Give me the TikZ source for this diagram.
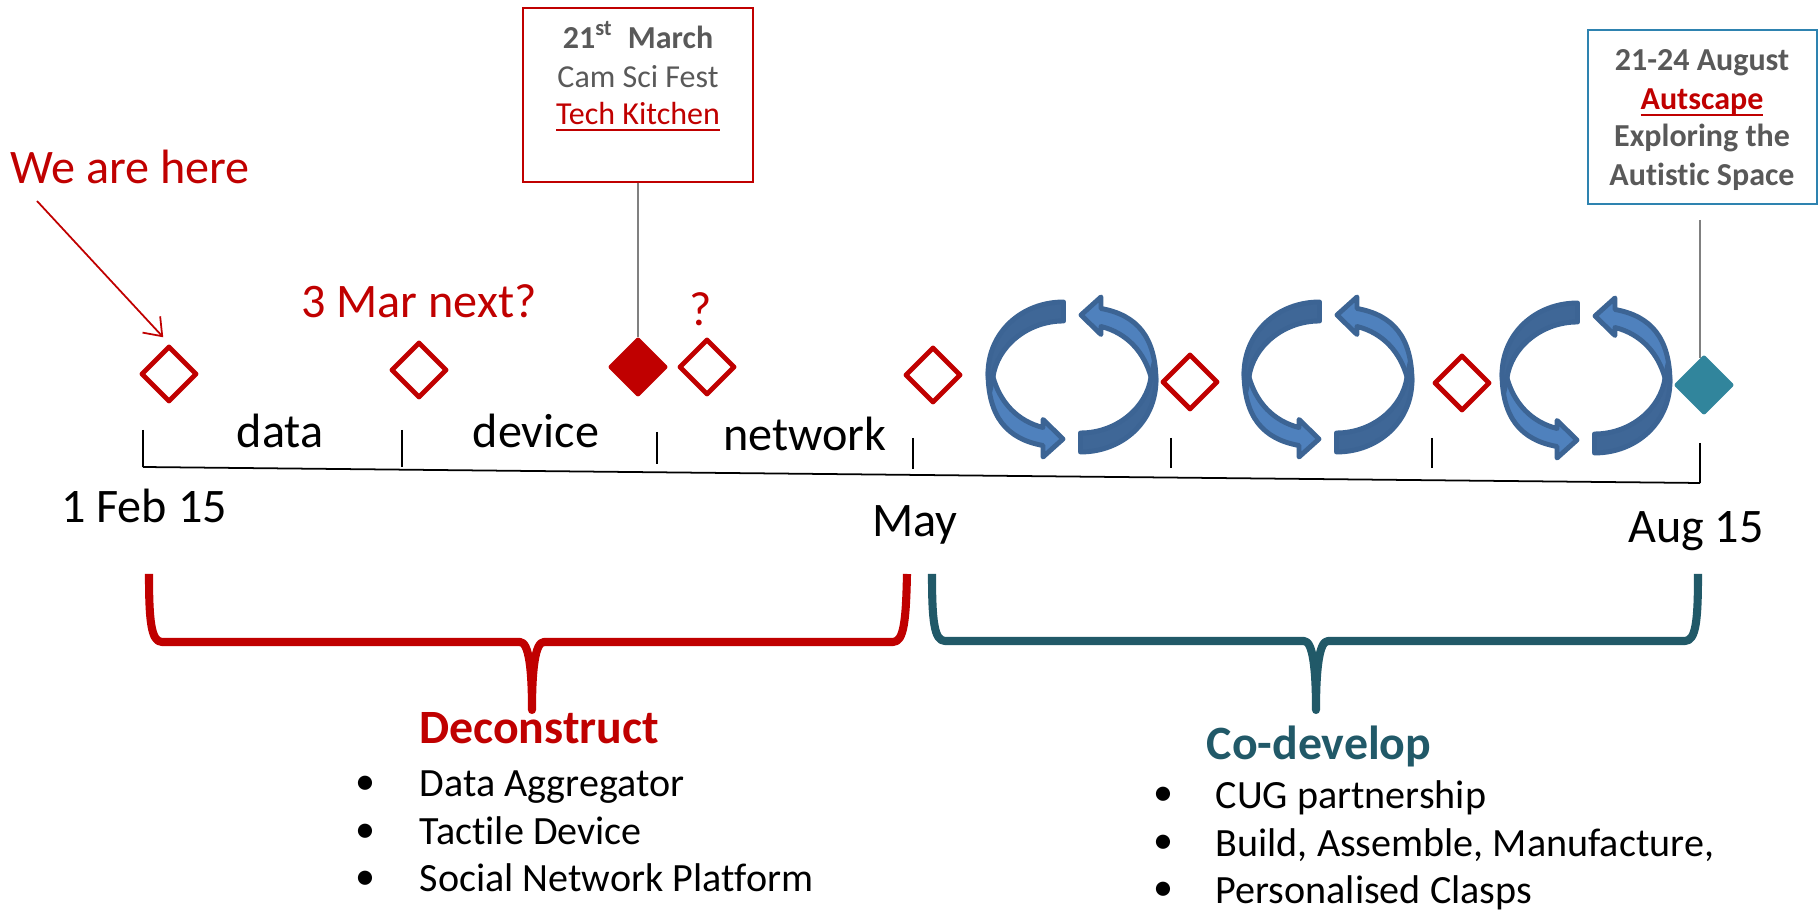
\documentclass[tikz,border=0pt]{standalone}
\usepackage{fontspec}
\setmainfont[Ligatures=NoCommon]{Carlito}
\usepackage{tikz}
\usetikzlibrary{arrows.meta,shapes.geometric}

\definecolor{deepred}{HTML}{C00000}
\definecolor{deepteal}{HTML}{215968}
\definecolor{lightteal}{HTML}{31859C}
\definecolor{boxblue}{HTML}{2E83B0}
\definecolor{greytext}{HTML}{595959}
\definecolor{ringfill}{HTML}{4F81BD}
\definecolor{ringback}{HTML}{3F6797}
\definecolor{ringedge}{HTML}{3C6494}

% one half of a pair of curved arrows
\newcommand{\halfring}{
    \draw[ringarrow] (-84,-5) .. controls (-84,40) and (-65,62) .. (-29,68.5)
        -- (-29,80) -- (-9,62) -- (-29,42.5) -- (-29,50.5)
        .. controls (-55,44) and (-72,25) .. (-79,0) -- cycle;
    \draw[ringbend] (-8.5,-75) .. controls (-50,-75) and (-84,-45) .. (-84,-3)
        -- (-82,14) -- (-79,0) .. controls (-75,-30) and (-45,-56) .. (-8.5,-56) -- cycle;
}
\newcommand{\ringpair}[2]{
    \begin{scope}[shift={(#1,#2)}]
        \halfring
        \begin{scope}[rotate=180]
            \halfring
        \end{scope}
    \end{scope}
}

\begin{document}
\begin{tikzpicture}[x=0.01cm,y=-0.01cm]
    \tikzstyle{bigtext}=[anchor=base,inner sep=0pt,font=\fontsize{13.7}{16}\selectfont]
    \tikzstyle{listtext}=[anchor=base west,inner sep=0pt,font=\fontsize{11.4}{14}\selectfont]
    \tikzstyle{boxtext}=[anchor=base,inner sep=0pt,font=\fontsize{9.1}{11}\selectfont,text=greytext]
    \tikzstyle{boxbold}=[boxtext,font=\fontsize{9.1}{11}\selectfont\bfseries]
    \tikzstyle{milestone}=[diamond,draw=deepred,line width=1.4pt,line join=round,minimum size=0.56cm,inner sep=0pt]
    \tikzstyle{tick}=[line width=0.5pt,black]
    \tikzstyle{stem}=[line width=0.5pt,gray]
    \tikzstyle{ringarrow}=[draw=ringedge,fill=ringfill,line width=1.4pt,line join=round]
    \tikzstyle{ringbend}=[draw=ringedge,fill=ringback,line width=1.4pt,line join=round]
    \tikzstyle{bracket}=[line width=2.3pt,line join=round]

    \useasboundingbox (0,0) rectangle (1820,910);

    % top labels
    \node[bigtext,text=deepred] (here) at (130,184) {We are here};
    \node[bigtext,text=deepred] (next) at (419,318) {3 Mar next?};
    \node[bigtext,text=deepred] (ask) at (701,326) {?};

    % milestones
    \node[milestone] (m1) at (169,374) {};
    \node[milestone] (m2) at (419,370) {};
    \node[milestone,fill=deepred] (m3) at (638,367) {};
    \node[milestone] (m4) at (707,367) {};
    \node[milestone] (m5) at (933,375) {};
    \node[milestone] (m6) at (1190,382) {};
    \node[milestone] (m7) at (1462,383) {};
    \node[milestone,draw=lightteal,fill=lightteal] (m8) at (1704,385) {};

    % we are here arrow
    \coordinate (herefrom) at (37,201);
    \draw[-{Straight Barb[length=0.16cm,width=0.24cm]},deepred,line width=0.5pt,shorten >=0.085cm] (herefrom) -- (m1.north);

    % event boxes
    \node[draw=deepred,thin,minimum width=2.3cm,minimum height=1.74cm] (kitchen) at (638,95) {};
    \node[boxbold] (kitchen1) at (638,49) {21\textsuperscript{st}\ \ March};
    \node[boxtext] (kitchen2) at (638,88) {Cam Sci Fest};
    \node[boxtext,text=deepred] (kitchen3) at (638,125) {\underline{\smash{Tech Kitchen}}};
    \draw[stem] (kitchen) -- (m3);

    \node[draw=boxblue,thin,minimum width=2.29cm,minimum height=1.74cm] (autscape) at (1702.5,117) {};
    \node[boxbold] (autscape1) at (1702,71) {21-24 August};
    \node[boxbold,text=deepred] (autscape2) at (1702,110) {\underline{\smash{Autscape}}};
    \node[boxbold] (autscape3) at (1702,147) {Exploring the};
    \node[boxbold] (autscape4) at (1702,186) {Autistic Space};
    \coordinate (stemtop) at (1700,220);
    \coordinate (stemend) at (1700,358);
    \draw[stem] (stemtop) -- (stemend);

    % curved arrows
    \ringpair{1072}{377}
    \ringpair{1328}{377}
    \ringpair{1586}{378}

    % timeline
    \coordinate (t1a) at (143,430);
    \coordinate (t1b) at (143,467);
    \coordinate (t2a) at (402,430);
    \coordinate (t2b) at (402,467);
    \coordinate (t3a) at (657,432);
    \coordinate (t3b) at (657,464);
    \coordinate (t4a) at (913,438);
    \coordinate (t4b) at (913,469);
    \coordinate (t5a) at (1171,438);
    \coordinate (t5b) at (1171,468);
    \coordinate (t6a) at (1432,438);
    \coordinate (t6b) at (1432,468);
    \coordinate (t7a) at (1700,443);
    \coordinate (t7b) at (1700,483);
    \draw[tick] (t1b) -- (t7b);
    \draw[tick] (t1a) -- (t1b);
    \draw[tick] (t2a) -- (t2b);
    \draw[tick] (t3a) -- (t3b);
    \draw[tick] (t4a) -- (t4b);
    \draw[tick] (t5a) -- (t5b);
    \draw[tick] (t6a) -- (t6b);
    \draw[tick] (t7a) -- (t7b);

    % timeline labels
    \node[bigtext] (data) at (280,448) {data};
    \node[bigtext] (device) at (536,448) {device};
    \node[bigtext] (network) at (805,451) {network};
    \node[bigtext] (feb) at (144,523) {1 Feb 15};
    \node[bigtext] (may) at (915,537) {May};
    \node[bigtext] (aug) at (1696,543) {Aug 15};

    % brackets
    \coordinate (b1a) at (149,574);
    \coordinate (b1b) at (532,710);
    \coordinate (b1c) at (907,574);
    \draw[bracket,deepred] (b1a) .. controls (149,620) and (151,642) .. (162,642)
        -- (520,642) .. controls (529,642) and (532,670) .. (b1b)
        .. controls (532,670) and (535,642) .. (544,642)
        -- (893,642) .. controls (904,642) and (906,620) .. (b1c);

    \coordinate (b2a) at (932,574);
    \coordinate (b2b) at (1316,710);
    \coordinate (b2c) at (1698,574);
    \draw[bracket,deepteal] (b2a) .. controls (932,620) and (934,641) .. (945,641)
        -- (1304,641) .. controls (1313,641) and (1316,670) .. (b2b)
        .. controls (1316,670) and (1319,641) .. (1328,641)
        -- (1685,641) .. controls (1696,641) and (1698,620) .. (b2c);

    % deconstruct list
    \node[bigtext,text=deepred,font=\fontsize{13.6}{16}\selectfont\bfseries] (deconstruct) at (539,744) {Deconstruct};
    \node[listtext] (item1) at (419,797) {Data Aggregator};
    \node[listtext] (item2) at (419,845) {Tactile Device};
    \node[listtext] (item3) at (419,892) {Social Network Platform};
    \node[listtext,anchor=base] (dot1) at (365,795) {•};
    \node[listtext,anchor=base] (dot2) at (365,843) {•};
    \node[listtext,anchor=base] (dot3) at (365,890) {•};

    % co-develop list
    \node[bigtext,text=deepteal,font=\fontsize{13.6}{16}\selectfont\bfseries] (codevelop) at (1319,760) {Co-develop};
    \node[listtext] (item4) at (1215,809) {CUG partnership};
    \node[listtext] (item5) at (1215,857) {Build, Assemble, Manufacture,};
    \node[listtext] (item6) at (1215,904) {Personalised Clasps};
    \node[listtext,anchor=base] (dot4) at (1163,806) {•};
    \node[listtext,anchor=base] (dot5) at (1163,854) {•};
    \node[listtext,anchor=base] (dot6) at (1163,901) {•};
\end{tikzpicture}
\end{document}
